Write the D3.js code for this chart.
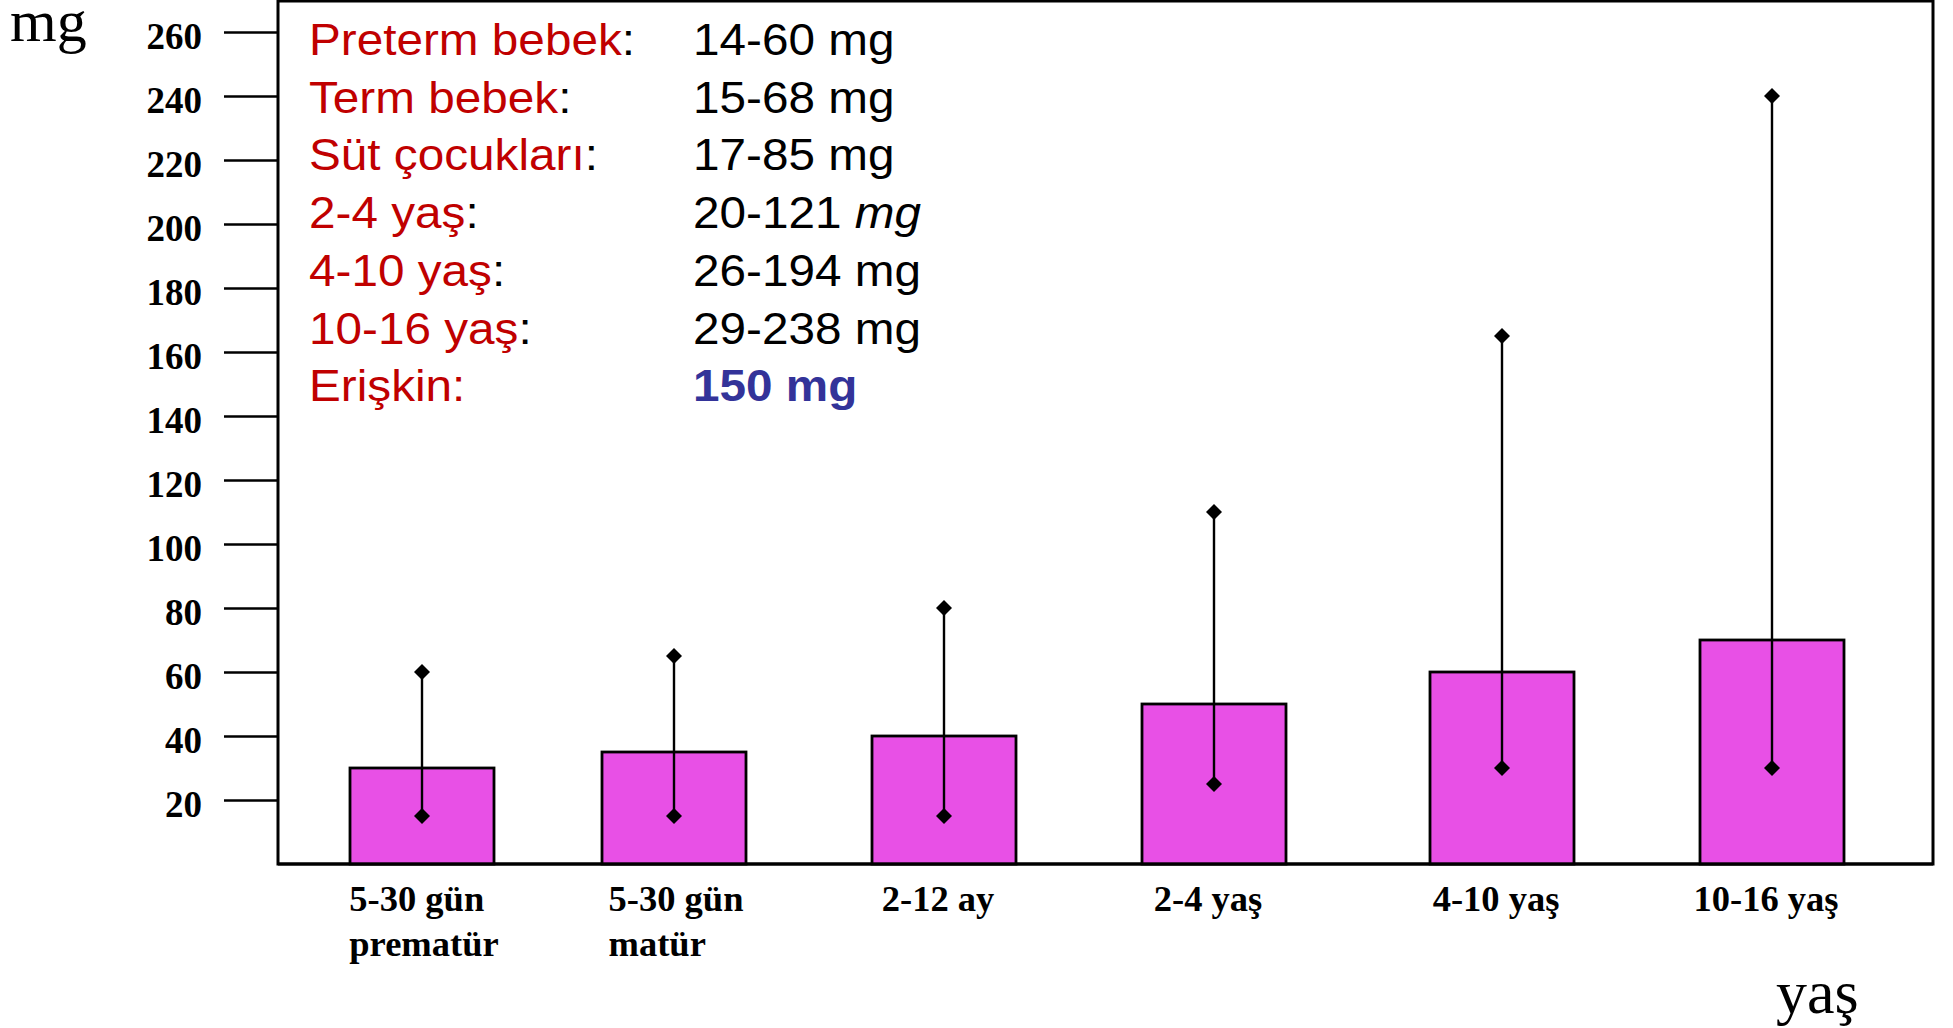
<!DOCTYPE html>
<html>
<head>
<meta charset="utf-8">
<script src="https://cdn.jsdelivr.net/npm/d3@7"></script>
<style>
  html, body { margin: 0; padding: 0; background: #fff; }
  svg { display: block; }
</style>
</head>
<body>
<script>
// Age groups (multi-line labels split with "\n")
const categories = ["5-30 gün\nprematür", "5-30 gün\nmatür", "2-12 ay", "2-4 yaş", "4-10 yaş", "10-16 yaş"];
// Mean value per group (mg) and the range shown by the whiskers
const means = [30, 35, 40, 50, 60, 70];
const lows  = [15, 15, 15, 25, 30, 30];
const highs = [60, 65, 80, 110, 165, 240];
// Y axis ticks
const yTicks = [20, 40, 60, 80, 100, 120, 140, 160, 180, 200, 220, 240, 260];
// Reference ranges listed inside the plot
const groupNames = ["Preterm bebek", "Term bebek", "Süt çocukları", "2-4 yaş", "4-10 yaş", "10-16 yaş", "Erişkin"];
const rangeValues = ["14-60", "15-68", "17-85", "20-121", "26-194", "29-238", "150"];

const W = 1953, H = 1028;
const plotLeft = 278, plotRight = 1933, plotTop = 1, plotBottom = 864;

const svg = d3.select("body").append("svg").attr("width", W).attr("height", H);

const y = d3.scaleLinear().domain([0, 270]).range([plotBottom, 0]);
const x = d3.scaleOrdinal().domain(categories).range([422, 674, 944, 1214, 1502, 1772]);
const barW = 144;

const data = categories.map((c, i) => ({ c, mean: means[i], lo: lows[i], hi: highs[i] }));

// Plot frame
svg.append("rect")
  .attr("x", plotLeft).attr("y", plotTop)
  .attr("width", plotRight - plotLeft).attr("height", plotBottom - plotTop)
  .attr("fill", "none").attr("stroke", "#000").attr("stroke-width", 3);

// Y axis ticks and labels
const yAxis = d3.axisLeft(y).tickValues(yTicks).tickSize(54).tickPadding(22);
const gy = svg.append("g").attr("transform", `translate(${plotLeft},0)`).call(yAxis);
gy.select(".domain").remove();
gy.selectAll(".tick line").attr("stroke", "#000").attr("stroke-width", 2.5);
gy.selectAll(".tick text")
  .attr("font-family", "'Liberation Serif', 'Times New Roman', serif")
  .attr("font-weight", "bold")
  .attr("font-size", 37)
  .attr("fill", "#000")
  .attr("dy", "0.45em");

// Bars
svg.append("g").selectAll("rect").data(data).join("rect")
  .attr("x", d => x(d.c) - barW / 2)
  .attr("y", d => y(d.mean))
  .attr("width", barW)
  .attr("height", d => y(0) - y(d.mean))
  .attr("fill", "#E850E6")
  .attr("stroke", "#000")
  .attr("stroke-width", 2.8);

// Range whiskers
svg.append("g").selectAll("line").data(data).join("line")
  .attr("x1", d => x(d.c)).attr("x2", d => x(d.c))
  .attr("y1", d => y(d.lo)).attr("y2", d => y(d.hi))
  .attr("stroke", "#000").attr("stroke-width", 2.4);

const diamond = d3.symbol().type(d3.symbolSquare).size(128);
const ends = data.flatMap(d => [{ c: d.c, v: d.lo }, { c: d.c, v: d.hi }]);
svg.append("g").selectAll("path").data(ends).join("path")
  .attr("d", diamond)
  .attr("transform", d => `translate(${x(d.c)},${y(d.v)}) rotate(45)`)
  .attr("fill", "#000");

// Redraw the baseline over bar bottoms
svg.append("line")
  .attr("x1", plotLeft).attr("x2", plotRight).attr("y1", plotBottom).attr("y2", plotBottom)
  .attr("stroke", "#000").attr("stroke-width", 3);

// Category labels
const serif = "'Liberation Serif', 'Times New Roman', serif";
categories.forEach(c => {
  const lines = c.split("\n");
  const t = svg.append("text")
    .attr("font-family", serif).attr("font-weight", "bold").attr("font-size", 36.5)
    .attr("fill", "#000");
  lines.forEach((ln, i) => {
    t.append("tspan").attr("y", 911 + i * 45).text(ln);
  });
  if (lines.length > 1) {
    // multi-line labels are a left-aligned block centred on the bar
    let w = 0;
    t.selectAll("tspan").each(function () { w = Math.max(w, this.getComputedTextLength()); });
    t.selectAll("tspan").attr("x", x(c) - w / 2 + 2);
  } else {
    t.attr("text-anchor", "middle");
    t.selectAll("tspan").attr("x", x(c) - 6);
  }
});

// Axis titles
svg.append("text").attr("x", 10).attr("y", 41)
  .attr("font-family", serif).attr("font-size", 60).attr("fill", "#000").text("mg");
svg.append("text").attr("x", 1776).attr("y", 1013)
  .attr("font-family", serif).attr("font-size", 62).attr("fill", "#000").text("yaş");

// Reference range list
const sans = "'Liberation Sans', Arial, sans-serif";
const red = "#C00000", blue = "#333399";
groupNames.forEach((name, i) => {
  const base = 55 + i * 57.7;
  const isAdult = i === groupNames.length - 1;
  const g = svg.append("g").attr("transform", `translate(309,${base}) scale(1.06,1)`);
  const t1 = g.append("text").attr("font-family", sans).attr("font-size", 45);
  t1.append("tspan").attr("fill", red).text(name);
  t1.append("tspan").attr("fill", isAdult ? red : "#000").text(":");

  const g2 = svg.append("g").attr("transform", `translate(693,${base}) scale(1.06,1)`);
  const t2 = g2.append("text").attr("font-family", sans).attr("font-size", 45);
  if (isAdult) {
    t2.attr("fill", blue).attr("font-weight", "bold").text(rangeValues[i] + " mg");
  } else {
    t2.attr("fill", "#000");
    t2.append("tspan").text(rangeValues[i] + " ");
    t2.append("tspan").attr("font-style", i === 3 ? "italic" : "normal").text("mg");
  }
});
</script>
</body>
</html>
